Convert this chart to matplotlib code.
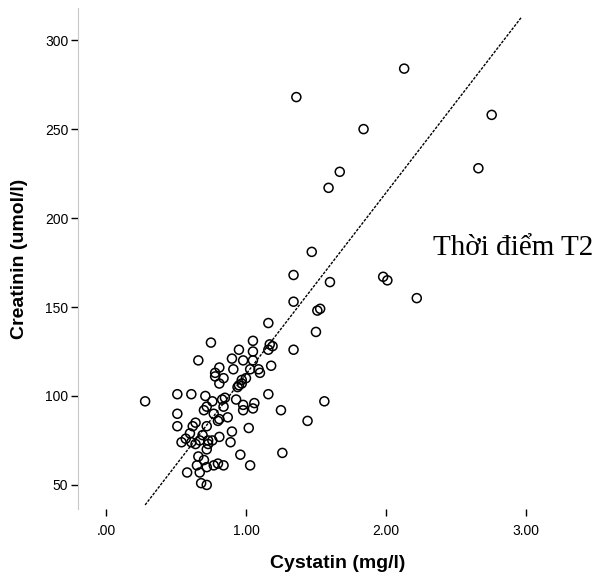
import numpy as np
import matplotlib
matplotlib.use('Agg')
import matplotlib.pyplot as plt

# Cystatin (mg/l) vs Creatinin (umol/l) - thoi diem T2
cystatin = [1.36, 2.13, 2.755, 1.84, 2.66, 1.67, 1.59, 1.47, 1.34, 1.60,
            1.98, 2.01, 2.22, 1.34, 1.51, 1.53, 1.16, 1.50, 1.05, 1.17,
            1.19, 1.34, 1.05, 1.16, 0.95, 0.75, 1.05, 1.18, 0.90, 0.98,
            1.09, 0.81, 0.91, 1.03, 1.10, 0.78, 0.84, 0.97, 1.00, 0.66,
            0.78, 0.97, 0.94, 0.81, 0.95, 1.16, 1.06, 1.05, 1.25, 1.56,
            1.44, 1.02, 1.26, 0.96, 1.03, 0.98, 0.83, 0.85, 0.81, 0.89,
            0.76, 0.80, 0.84, 0.28, 0.51, 0.61, 0.71, 0.51, 0.51, 0.64,
            0.60, 0.54, 0.61, 0.67, 0.73, 0.72, 0.77, 0.70, 0.65, 0.58,
            0.67, 0.72, 0.68, 0.72, 0.77, 0.90, 0.81, 0.73, 0.62, 0.64,
            0.72, 0.80, 0.72, 0.84, 0.98, 0.57, 0.69, 0.66, 0.70, 0.87,
            0.93, 0.76]
creatinin = [268, 284, 258, 250, 228, 226, 217, 181, 168, 164,
             167, 165, 155, 153, 148, 149, 141, 136, 131, 129,
             128, 126, 125, 126, 126, 130, 120, 117, 121, 120,
             115, 116, 115, 115, 113, 111, 110, 109, 110, 120,
             113, 107, 105, 107, 106, 101, 96, 93, 92, 97,
             86, 82, 68, 67, 61, 92, 98, 99, 87, 74,
             75, 62, 61, 97, 101, 101, 100, 90, 83, 85,
             79, 74, 74, 75, 75, 70, 90, 92, 61, 57,
             57, 60, 51, 50, 61, 80, 77, 73, 83, 73,
             83, 86, 94, 94, 95, 76, 78, 66, 64, 88,
             98, 97]

# fit line as drawn in the original (intercept, slope) and its x span
fit_intercept = 10.2
fit_slope = 102.0
fit_x = [0.28, 2.97]

xticks = [0, 1, 2, 3]
xtick_labels = ['.00', '1.00', '2.00', '3.00']
yticks = [50, 100, 150, 200, 250, 300]

x = np.array(cystatin)
y = np.array(creatinin)

fig = plt.figure(figsize=(6.04, 5.81), dpi=100)
ax = fig.add_axes([0.129, 0.124, 0.861, 0.862])

ax.scatter(x, y, s=42, facecolors='none', edgecolors='black', linewidths=1.1)

xl = np.array(fit_x)
ax.plot(xl, fit_intercept + fit_slope * xl, color='black', lw=1.0, ls=(0, (2, 1)))

ax.text(2.336, 183, 'Thời điểm T2', fontsize=21, family='Liberation Serif',
        va='center', ha='left')

ax.set_xlim(-0.2, 3.514)
ax.set_ylim(36.5, 318)
ax.set_xticks(xticks)
ax.set_xticklabels(xtick_labels)
ax.set_yticks(yticks)

for s in ['top', 'right', 'bottom']:
    ax.spines[s].set_visible(False)
ax.spines['left'].set_color('#c8c8c8')
ax.tick_params(axis='both', direction='out', length=5, width=1, color='black',
               labelsize=10)
ax.tick_params(axis='x', pad=6)
ax.tick_params(axis='y', pad=2)
for lab in ax.get_xticklabels() + ax.get_yticklabels():
    lab.set_family('Liberation Sans')

ax.set_xlabel('Cystatin (mg/l)', fontsize=14, fontweight='bold',
              family='Liberation Sans', labelpad=12)
ax.set_ylabel('Creatinin (umol/l)', fontsize=14, fontweight='bold',
              family='Liberation Sans', labelpad=12)

fig.savefig('out.png', dpi=100)
